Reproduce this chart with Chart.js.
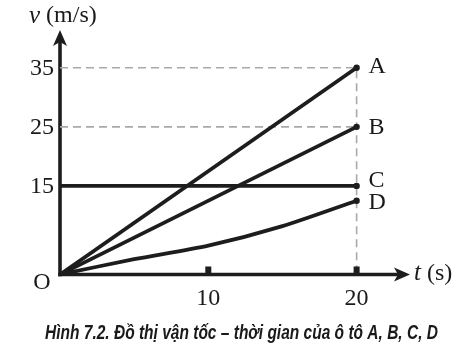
<!DOCTYPE html>
<html>
<head>
<meta charset="utf-8">
<script src="https://cdn.jsdelivr.net/npm/chart.js@4/dist/chart.umd.min.js"></script>
<style>
  html, body { margin: 0; padding: 0; background: #fff; }
  #wrap { width: 473px; height: 353px; }
</style>
</head>
<body>
<div id="wrap"><canvas id="c" width="473" height="353"></canvas></div>
<script>
// ---- data ----
const tEnds = [0, 20];
const seriesA = [0, 35];
const seriesB = [0, 25];
const seriesC = [15, 15];
const tD = [0, 5, 10, 15, 20];
const seriesD = [0, 2.6, 4.9, 8.2, 12.5];
const seriesLabels = ['A', 'B', 'C', 'D'];
const yTickLabels = [15, 25, 35];
const xTickLabels = [10, 20];
const guideLevels = [35, 25];
const yAxisTitle = 'v';
const yAxisUnit = ' (m/s)';
const xAxisTitle = 't';
const xAxisUnit = ' (s)';
const originLabel = 'O';
const caption = 'Hình 7.2. Đồ thị vận tốc – thời gian của ô tô A, B, C, D';

const INK = '#1d1d1d';
const GUIDE = '#a9a9a9';

function pts(xs, ys) { return xs.map((x, i) => ({ x: x, y: ys[i] })); }
const lastDot = (ctx) => ctx.dataIndex === ctx.dataset.data.length - 1 ? 3.2 : 0;

const mainLine = (lbl, data, tension) => ({
  label: lbl, data: data, borderColor: INK, backgroundColor: INK,
  borderWidth: 3.8, pointRadius: lastDot, pointBackgroundColor: INK,
  pointBorderColor: INK, pointBorderWidth: 0, tension: tension || 0, fill: false, order: 0
});

const datasets = [
  { label: 'guide35', data: [{ x: 0, y: guideLevels[0] }, { x: tEnds[1], y: guideLevels[0] }, { x: tEnds[1], y: 0 }],
    borderColor: GUIDE, borderWidth: 1.6, borderDash: [8, 5], pointRadius: 0, fill: false, order: 5 },
  { label: 'guide25', data: [{ x: 0, y: guideLevels[1] }, { x: tEnds[1], y: guideLevels[1] }],
    borderColor: GUIDE, borderWidth: 1.6, borderDash: [8, 5], pointRadius: 0, fill: false, order: 5 },
  mainLine('A', pts(tEnds, seriesA)),
  mainLine('B', pts(tEnds, seriesB)),
  mainLine('C', pts(tEnds, seriesC)),
  mainLine('D', pts(tD, seriesD), 0.25)
];

const decor = {
  id: 'decor',
  beforeDatasetsDraw(chart) {
    const { ctx, chartArea: a, scales: { x, y } } = chart;
    const x0 = x.getPixelForValue(0), y0 = y.getPixelForValue(0);
    ctx.save();
    ctx.strokeStyle = INK; ctx.fillStyle = INK; ctx.lineWidth = 3.6;
    // y axis
    ctx.beginPath(); ctx.moveTo(x0, y0 + 1.8); ctx.lineTo(x0, a.top + 8); ctx.stroke();
    ctx.beginPath(); ctx.moveTo(x0, a.top); ctx.lineTo(x0 - 7, a.top + 16); ctx.lineTo(x0, a.top + 12); ctx.lineTo(x0 + 7, a.top + 16); ctx.closePath(); ctx.fill();
    // x axis
    ctx.beginPath(); ctx.moveTo(x0 - 1.8, y0); ctx.lineTo(a.right - 8, y0); ctx.stroke();
    ctx.beginPath(); ctx.moveTo(a.right, y0); ctx.lineTo(a.right - 16, y0 - 7); ctx.lineTo(a.right - 12, y0); ctx.lineTo(a.right - 16, y0 + 7); ctx.closePath(); ctx.fill();
    ctx.restore();
  },
  afterDatasetsDraw(chart) {
    const { ctx, scales: { x, y } } = chart;
    const y0 = y.getPixelForValue(0);
    ctx.save();
    ctx.fillStyle = INK;
    // x ticks (small squares)
    xTickLabels.forEach(v => {
      const px = x.getPixelForValue(v);
      ctx.fillRect(px - 3, y0 - 8, 6, 8);
    });
    ctx.restore();
  },
  afterDraw(chart) {
    const { ctx, chartArea: a, scales: { x, y } } = chart;
    const x0 = x.getPixelForValue(0), y0 = y.getPixelForValue(0);
    ctx.save();
    ctx.fillStyle = '#1a1a1a';
    const serif = '"Liberation Serif", "DejaVu Serif", serif';
    ctx.font = '24px ' + serif;
    // y tick labels
    ctx.textAlign = 'right'; ctx.textBaseline = 'middle';
    yTickLabels.forEach(v => ctx.fillText(String(v), x0 - 6, y.getPixelForValue(v) + 1));
    // x tick labels
    ctx.textAlign = 'center'; ctx.textBaseline = 'top';
    xTickLabels.forEach(v => ctx.fillText(String(v), x.getPixelForValue(v), y0 + 12));
    // origin
    ctx.textAlign = 'center'; ctx.textBaseline = 'middle';
    ctx.fillText(originLabel, x0 - 18, y0 + 8);
    // series labels at end points
    ctx.textAlign = 'left';
    const ends = [seriesA[1], seriesB[1], seriesC[1], seriesD[seriesD.length - 1]];
    const offs = [-1, 1, -5, 2];
    seriesLabels.forEach((l, i) => ctx.fillText(l, x.getPixelForValue(tEnds[1]) + 12, y.getPixelForValue(ends[i]) + offs[i]));
    // y axis title
    ctx.textBaseline = 'middle';
    ctx.font = 'italic 25px ' + serif;
    ctx.fillText(yAxisTitle, 29, 16);
    let w = ctx.measureText(yAxisTitle).width;
    ctx.font = '24px ' + serif;
    ctx.fillText(yAxisUnit, 29 + w, 16);
    // x axis title
    ctx.font = 'italic 25px ' + serif;
    ctx.fillText(xAxisTitle, a.right + 4, y0 - 1);
    w = ctx.measureText(xAxisTitle).width;
    ctx.font = '24px ' + serif;
    ctx.fillText(xAxisUnit, a.right + 4 + w, y0 - 1);
    // caption
    ctx.font = 'italic bold 21px "Liberation Sans Narrow", "Liberation Sans", "Open Sans", sans-serif';
    ctx.textAlign = 'left'; ctx.textBaseline = 'middle';
    const cw = ctx.measureText(caption).width;
    const target = 393;
    ctx.translate(45, 333);
    ctx.scale(target / cw, 1);
    ctx.fillText(caption, 0, 0);
    ctx.restore();
  }
};

new Chart(document.getElementById('c'), {
  type: 'line',
  data: { datasets: datasets },
  options: {
    responsive: false,
    animation: false,
    layout: { padding: { left: 60, right: 63, top: 30, bottom: 78.5 } },
    plugins: { legend: { display: false }, tooltip: { enabled: false } },
    scales: {
      x: { type: 'linear', min: 0, max: 23.6, display: false },
      y: { type: 'linear', min: 0, max: 41.4, display: false }
    }
  },
  plugins: [decor]
});
</script>
</body>
</html>
